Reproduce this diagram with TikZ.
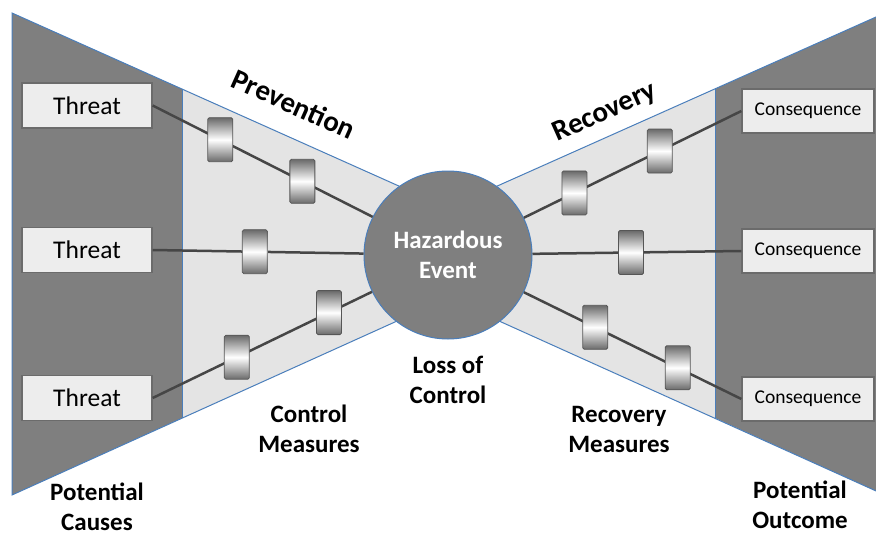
\documentclass[tikz,border=0pt]{standalone}
\usepackage{fontspec}
\setmainfont{Carlito}
\usetikzlibrary{calc}
\definecolor{wing}{HTML}{7F7F7F}
\definecolor{funnel}{HTML}{E4E4E4}
\definecolor{edgeblue}{HTML}{4A7EBB}
\definecolor{boxfill}{HTML}{EDEDED}
\definecolor{boxline}{HTML}{6B6B6B}
\definecolor{pathline}{HTML}{464646}
\definecolor{barend}{HTML}{6A6A6A}
\begin{document}
\begin{tikzpicture}[x=1pt,y=-1pt,
  outline/.style={draw=edgeblue, line width=1pt},
  srcbox/.style={draw=boxline, line width=1.3pt, fill=boxfill, minimum width=130pt,
    minimum height=45pt, inner sep=0pt, font=\fontsize{25.5}{30}\selectfont},
  outbox/.style={srcbox, minimum width=132pt, minimum height=44pt,
    font=\fontsize{19.5}{24}\selectfont},
  barrier/.style={draw=boxline!80!black, line width=0.8pt, rounded corners=1.5pt,
    minimum width=25pt, minimum height=44pt, inner sep=0pt,
    top color=barend, bottom color=barend, middle color=white},
  link/.style={draw=pathline, line width=2.5pt},
  caption/.style={font=\bfseries\fontsize{25}{30}\selectfont, align=center},
  ]
\useasboundingbox (0,0) rectangle (876,535);
\begin{scope}
  \clip (0,0) rectangle (876,535);
  % left wing: causes and prevention funnel
  \fill[wing] (12,13) -- (182,89) -- (182,418) -- (12,495) -- cycle;
  \fill[funnel] (182,89) -- (448,208) -- (448,298) -- (182,418) -- cycle;
  \draw[outline] (448,208) -- (12,13) -- (12,495) -- (448,298);
  \draw[outline] (182,89) -- (182,418);
  % right wing: recovery funnel and outcomes
  \fill[wing] (885,13) -- (715,89) -- (715,418) -- (885,495) -- cycle;
  \fill[funnel] (715,89) -- (448,208) -- (448,298) -- (715,418) -- cycle;
  \draw[outline] (448,208) -- (885,13) -- (885,495) -- (448,298);
  \draw[outline] (715,89) -- (715,418);
\end{scope}

% central event
\node[circle, fill=wing, draw=edgeblue, line width=1pt, minimum size=168pt,
  inner sep=0pt, caption, text=white] (he) at (448,255) {Hazardous\\Event};

% threats and consequences
\node[srcbox] (t1) at (87,105.5) {Threat};
\node[srcbox] (t2) at (87,250) {Threat};
\node[srcbox] (t3) at (87,398) {Threat};
\node[outbox] (c1) at (808,111) {Consequence};
\node[outbox] (c2) at (808,251) {Consequence};
\node[outbox] (c3) at (808,399) {Consequence};

% pathways
\draw[link] (t1.east) -- (he);
\draw[link] (t2.east) -- (he);
\draw[link] (t3.east) -- (he);
\draw[link] (c1.west) -- (he);
\draw[link] (c2.west) -- (he);
\draw[link] (c3.west) -- (he);

% barriers on the pathways
\node[barrier] (b11) at ($(t1.east)!0.229!(he.center)$) {};
\node[barrier] (b12) at ($(t1.east)!0.507!(he.center)$) {};
\node[barrier] (b21) at ($(t2.east)!0.346!(he.center)$) {};
\node[barrier] (b31) at ($(t3.east)!0.285!(he.center)$) {};
\node[barrier] (b32) at ($(t3.east)!0.597!(he.center)$) {};
\node[barrier] (r11) at ($(c1.west)!0.278!(he.center)$) {};
\node[barrier] (r12) at ($(c1.west)!0.569!(he.center)$) {};
\node[barrier] (r21) at ($(c2.west)!0.376!(he.center)$) {};
\node[barrier] (r31) at ($(c3.west)!0.217!(he.center)$) {};
\node[barrier] (r32) at ($(c3.west)!0.498!(he.center)$) {};

% captions
\node[caption, font=\bfseries\fontsize{29}{34}\selectfont, rotate=-24] (prev) at (294,104) {Prevention};
\node[caption, font=\bfseries\fontsize{29}{34}\selectfont, rotate=24] (reco) at (605,113) {Recovery};
\node[caption] (loss) at (448,380) {Loss of\\Control};
\node[caption] (cm) at (309,429) {Control\\Measures};
\node[caption] (rm) at (619,429) {Recovery\\Measures};
\node[caption] (pc) at (97,507) {Potential\\Causes};
\node[caption] (po) at (800,505) {Potential\\Outcome};
\end{tikzpicture}
\end{document}
